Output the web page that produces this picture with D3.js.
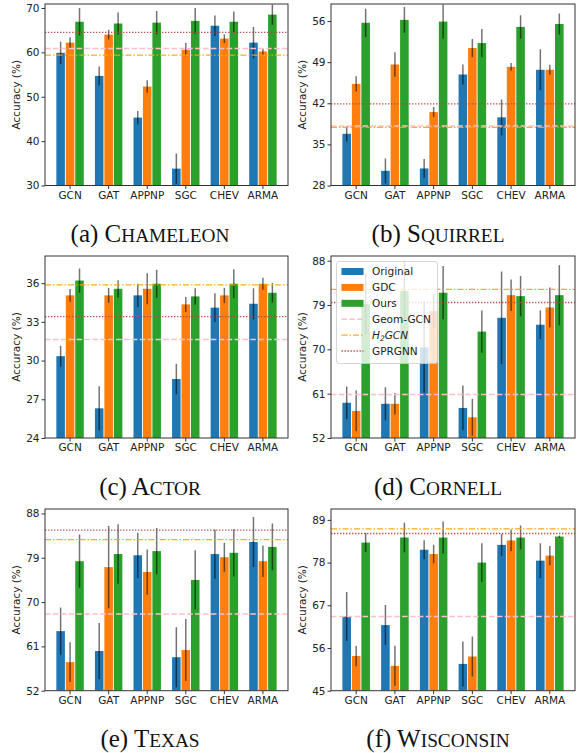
<!DOCTYPE html>
<html>
<head>
<meta charset="utf-8">
<script src="https://cdn.jsdelivr.net/npm/d3@7"></script>
<style>
  body { margin: 0; background: #fff; }
  svg { display: block; }
  .tick text { font-family: "DejaVu Sans", sans-serif; font-size: 10.5px; fill: #222; }
</style>
</head>
<body>
<div id="chart"></div>
<script>
document.addEventListener("DOMContentLoaded", function () {
    const models = ["GCN", "GAT", "APPNP", "SGC", "CHEV", "ARMA"];
    const seriesNames = ["Original", "GDC", "Ours"];
    const colors = ["#1f77b4", "#ff7f0e", "#2ca02c"];

    const datasets = ["Chameleon", "Squirrel", "Actor", "Cornell", "Texas", "Wisconsin"];
    const letters = ["a", "b", "c", "d", "e", "f"];

    // mean accuracy per dataset: [Original, GDC, Ours]
    const chameleonMean = [
        [59.9, 54.7, 45.3, 33.8, 66.0, 62.2],
        [62.2, 64.0, 52.3, 60.6, 63.1, 60.2],
        [66.9, 66.5, 66.7, 67.1, 66.9, 68.5]
    ];
    const chameleonStd = [
        [2.5, 2.1, 1.5, 3.4, 2.3, 3.5],
        [1.2, 1.1, 1.4, 1.5, 1.0, 0.7],
        [3.1, 2.5, 2.6, 2.9, 2.3, 2.3]
    ];
    const squirrelMean = [
        [36.8, 30.5, 30.9, 46.9, 39.6, 47.7],
        [45.3, 48.6, 40.5, 51.4, 48.2, 47.7],
        [55.7, 56.2, 55.9, 52.25, 55.0, 55.5]
    ];
    const squirrelStd = [
        [1.3, 2.1, 1.6, 1.7, 3.05, 3.5],
        [1.3, 2.1, 0.85, 1.55, 0.65, 0.85],
        [2.4, 2.2, 2.9, 2.4, 2.0, 1.8]
    ];
    const actorMean = [
        [30.34, 26.3, 35.05, 28.57, 34.1, 34.4],
        [35.05, 35.05, 35.56, 34.35, 35.05, 35.95],
        [36.2, 35.56, 35.95, 34.97, 35.95, 35.25]
    ];
    const actorStd = [
        [0.8, 1.7, 0.9, 1.18, 1.12, 1.2],
        [0.5, 0.58, 1.2, 0.58, 0.58, 0.46],
        [0.93, 0.67, 1.08, 0.64, 1.12, 0.76]
    ];
    const cornellMean = [
        [59.15, 58.95, 70.4, 58.1, 76.4, 75.0],
        [57.5, 58.95, 77.8, 56.2, 81.0, 78.5],
        [79.2, 81.9, 81.5, 73.6, 80.8, 81.0]
    ];
    const cornellStd = [
        [3.3, 3.35, 9.2, 4.55, 9.4, 2.9],
        [4.15, 2.2, 3.5, 3.75, 3.2, 4.05],
        [6.25, 5.9, 5.4, 4.3, 4.1, 6.1]
    ];
    const texasMean = [
        [64.1, 60.06, 79.5, 58.8, 79.75, 82.2],
        [57.8, 77.1, 76.1, 60.25, 79.1, 78.3],
        [78.3, 79.75, 80.35, 74.5, 80.0, 81.2]
    ];
    const texasStd = [
        [4.8, 5.7, 4.6, 6.1, 5.0, 5.1],
        [4.05, 8.35, 4.6, 6.3, 2.95, 3.2],
        [5.4, 6.05, 4.7, 6.0, 4.8, 4.75]
    ];
    const wisconsinMean = [
        [64.1, 61.9, 81.3, 51.9, 82.55, 78.5],
        [53.95, 51.4, 80.2, 53.8, 83.7, 79.8],
        [83.15, 84.45, 84.45, 78.0, 84.45, 84.7]
    ];
    const wisconsinStd = [
        [6.3, 5.15, 2.45, 5.8, 2.8, 4.5],
        [2.65, 5.15, 2.4, 5.15, 2.8, 2.5],
        [2.45, 3.8, 4.1, 5.0, 3.1, 0.3]
    ];

    // reference baselines, one value per dataset
    const geomGcn = [60.9, 38.14, 31.63, 60.81, 67.57, 64.12];
    const h2gcn = [59.39, 37.9, 35.86, 82.16, 82.7, 86.67];
    const gprgnn = [64.5, 41.9, 33.4, 79.5, 84.6, 85.5];

    // y axis ticks and limits
    const yTicks = [
        [30, 40, 50, 60, 70],
        [28, 35, 42, 49, 56],
        [24, 27, 30, 33, 36],
        [52, 61, 70, 79, 88],
        [52, 61, 70, 79, 88],
        [45, 56, 67, 78, 89]
    ];
    const yLimits = [[30, 70.9], [28, 58.9], [24, 38.1], [52, 88.95], [52, 88.9], [45, 91.8]];

    const means = [chameleonMean, squirrelMean, actorMean, cornellMean, texasMean, wisconsinMean];
    const stds = [chameleonStd, squirrelStd, actorStd, cornellStd, texasStd, wisconsinStd];

    const baselines = [
        { name: "Geom-GCN", values: geomGcn, color: "#ffc0cb", dash: "5.5,2.4", width: 1.5, opacity: 1 },
        { name: "H2GCN", values: h2gcn, color: "#ffa500", dash: "6,2,1.5,2", width: 1.3, opacity: 0.9 },
        { name: "GPRGNN", values: gprgnn, color: "#b84444", dash: "1.4,1.6", width: 1.4, opacity: 0.9 }
    ];

    const cols = [[45, 288], [331, 575]];
    const rows = [[4, 185.5], [256, 438], [509, 690.7]];
    const captionX = [150, 438];

    const svg = d3.select("#chart").append("svg")
        .attr("width", 580)
        .attr("height", 753);

    datasets.forEach((name, i) => {
        const [x0, x1] = cols[i % 2];
        const [y0, y1] = rows[Math.floor(i / 2)];
        const w = x1 - x0, h = y1 - y0;

        const g = svg.append("g").attr("transform", `translate(${x0},${y0})`);

        const x = d3.scaleBand().domain(models).range([0, w]).paddingInner(0).paddingOuter(0.15);
        const barStep = x.step() * 0.245;
        const y = d3.scaleLinear().domain(yLimits[i]).range([h, 0]);

        g.append("clipPath").attr("id", "clip" + i)
            .append("rect").attr("width", w).attr("height", h);

        const plot = g.append("g").attr("clip-path", `url(#clip${i})`);

        const cells = [];
        means[i].forEach((vals, s) => vals.forEach((v, k) =>
            cells.push({ s, model: models[k], v, e: stds[i][s][k] })));

        const cx = d => x(d.model) + x.bandwidth() / 2 + (d.s - 1) * barStep;

        plot.selectAll(".bar")
            .data(cells)
            .enter()
            .append("rect")
            .attr("x", d => cx(d) - barStep / 2 + 0.45)
            .attr("y", d => y(d.v))
            .attr("width", barStep - 0.9)
            .attr("height", d => h - y(d.v))
            .attr("fill", d => colors[d.s]);

        plot.selectAll(".err")
            .data(cells)
            .enter()
            .append("line")
            .attr("x1", cx).attr("x2", cx)
            .attr("y1", d => y(d.v - d.e))
            .attr("y2", d => y(d.v + d.e))
            .attr("stroke", "#000")
            .attr("stroke-opacity", 0.55)
            .attr("stroke-width", 1.5);

        baselines.forEach(b => {
            plot.append("line")
                .attr("x1", 0).attr("x2", w)
                .attr("y1", y(b.values[i])).attr("y2", y(b.values[i]))
                .attr("stroke", b.color)
                .attr("stroke-opacity", b.opacity)
                .attr("stroke-width", b.width)
                .attr("stroke-dasharray", b.dash);
        });

        // axes
        const xAxis = g.append("g")
            .attr("transform", `translate(0,${h})`)
            .call(d3.axisBottom(x).tickSize(3.5).tickPadding(2.3));
        const yAxis = g.append("g")
            .call(d3.axisLeft(y).tickValues(yTicks[i]).tickSize(3.5).tickPadding(2));
        [xAxis, yAxis].forEach(a => {
            a.select(".domain").remove();
            a.selectAll(".tick line").attr("stroke", "#333");
        });

        g.append("rect")
            .attr("width", w).attr("height", h)
            .attr("fill", "none")
            .attr("stroke", "#333")
            .attr("stroke-width", 1);

        g.append("text")
            .attr("transform", `translate(${(i % 2 ? 302.5 - x0 : 16 - x0)},${h / 2}) rotate(-90)`)
            .attr("text-anchor", "middle")
            .attr("dy", "0.35em")
            .style("font-family", "DejaVu Sans, sans-serif")
            .style("font-size", "10.5px")
            .attr("fill", "#222")
            .text("Accuracy (%)");

        // legend only in the Cornell panel
        if (name === "Cornell") {
            const lg = g.append("g").attr("transform", "translate(5.5,5.5)");
            lg.append("rect")
                .attr("width", 101).attr("height", 102)
                .attr("rx", 2.5)
                .attr("fill", "#fff").attr("fill-opacity", 0.8)
                .attr("stroke", "#ccc").attr("stroke-width", 0.8);
            const items = seriesNames.map((n, s) => ({ label: n, color: colors[s], patch: true }))
                .concat(baselines.map(b => ({ label: b.name, b })));
            items.forEach((it, k) => {
                const row = lg.append("g").attr("transform", `translate(0,${10 + k * 15.9})`);
                if (it.patch) {
                    row.append("rect").attr("x", 5).attr("y", -3.5)
                        .attr("width", 22).attr("height", 7).attr("fill", it.color);
                } else {
                    row.append("line").attr("x1", 5).attr("x2", 27)
                        .attr("stroke", it.b.color)
                        .attr("stroke-opacity", it.b.opacity)
                        .attr("stroke-width", it.b.width)
                        .attr("stroke-dasharray", it.b.dash);
                }
                const t = row.append("text")
                    .attr("x", 35.5).attr("dy", "0.36em")
                    .style("font-family", "DejaVu Sans, sans-serif")
                    .style("font-size", "10.5px")
                    .attr("fill", "#222");
                if (it.label === "H2GCN") {
                    t.style("font-style", "italic");
                    t.append("tspan").text("H");
                    t.append("tspan").attr("dy", 2.5).style("font-size", "7.5px").text("2");
                    t.append("tspan").attr("dy", -2.5).text("GCN");
                } else {
                    t.text(it.label);
                }
            });
        }

        // caption under the panel: "(x) " then name in small caps
        const cap = svg.append("text")
            .attr("x", captionX[i % 2])
            .attr("y", y1 + 56.5)
            .attr("text-anchor", "middle")
            .style("font-family", "Liberation Serif, serif")
            .style("font-size", "25px")
            .attr("fill", "#111");
        cap.append("tspan").text(`(${letters[i]}) ${name[0]}`);
        cap.append("tspan").style("font-size", "19.3px").text(name.slice(1).toUpperCase());
    });
});
</script>
</body>
</html>
